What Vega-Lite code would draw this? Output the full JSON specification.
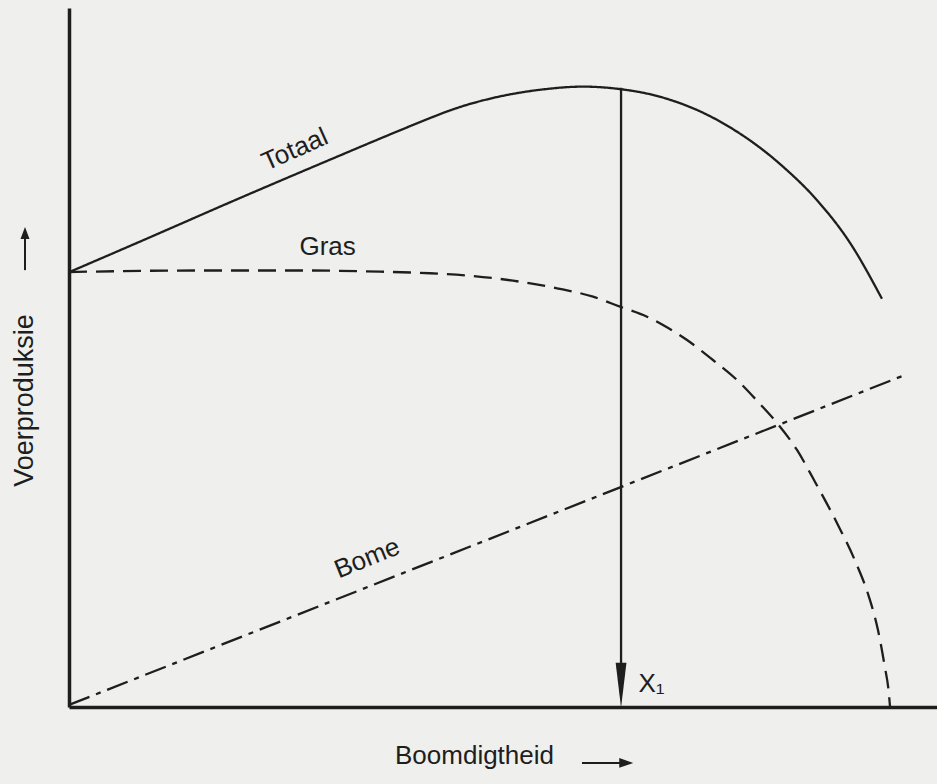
{
  "$schema": "https://vega.github.io/schema/vega-lite/v6.json",
  "width": 868,
  "height": 699,
  "autosize": {"type": "none"},
  "padding": {"left": 69, "top": 8, "right": 0, "bottom": 77},
  "background": "#efefed",
  "config": {
    "view": {"stroke": null},
    "font": "Liberation Sans",
    "text": {"font": "Liberation Sans", "fontSize": 26, "color": "#1e1e1e"}
  },
  "datasets": {
    "curves": [
      {"series": "Totaal", "x": 0, "y": 62.2},
      {"series": "Totaal", "x": 9.33, "y": 67.2},
      {"series": "Totaal", "x": 18.55, "y": 72.2},
      {"series": "Totaal", "x": 30.07, "y": 78.3},
      {"series": "Totaal", "x": 38.13, "y": 82.5},
      {"series": "Totaal", "x": 41.59, "y": 84.25},
      {"series": "Totaal", "x": 43.89, "y": 85.35},
      {"series": "Totaal", "x": 46.0, "y": 86.2},
      {"series": "Totaal", "x": 49.65, "y": 87.35},
      {"series": "Totaal", "x": 54.26, "y": 88.3},
      {"series": "Totaal", "x": 59.22, "y": 88.75},
      {"series": "Totaal", "x": 63.48, "y": 88.4},
      {"series": "Totaal", "x": 68.09, "y": 87.3},
      {"series": "Totaal", "x": 74.65, "y": 84.0},
      {"series": "Totaal", "x": 82.26, "y": 77.3},
      {"series": "Totaal", "x": 86.18, "y": 72.5},
      {"series": "Totaal", "x": 89.98, "y": 66.4},
      {"series": "Totaal", "x": 93.66, "y": 58.4},
      {"series": "Gras", "x": 0, "y": 62.23},
      {"series": "Gras", "x": 15.09, "y": 62.45},
      {"series": "Gras", "x": 26.61, "y": 62.45},
      {"series": "Gras", "x": 35.83, "y": 62.28},
      {"series": "Gras", "x": 41.59, "y": 62.05},
      {"series": "Gras", "x": 46.2, "y": 61.7},
      {"series": "Gras", "x": 51.15, "y": 60.99},
      {"series": "Gras", "x": 56.22, "y": 59.9},
      {"series": "Gras", "x": 60.37, "y": 58.7},
      {"series": "Gras", "x": 63.48, "y": 57.27},
      {"series": "Gras", "x": 66.59, "y": 55.84},
      {"series": "Gras", "x": 68.43, "y": 54.65},
      {"series": "Gras", "x": 71.2, "y": 52.5},
      {"series": "Gras", "x": 74.19, "y": 49.64},
      {"series": "Gras", "x": 76.96, "y": 46.78},
      {"series": "Gras", "x": 79.61, "y": 43.35},
      {"series": "Gras", "x": 81.57, "y": 40.63},
      {"series": "Gras", "x": 83.87, "y": 36.77},
      {"series": "Gras", "x": 85.83, "y": 32.47},
      {"series": "Gras", "x": 88.59, "y": 26.04},
      {"series": "Gras", "x": 90.67, "y": 20.6},
      {"series": "Gras", "x": 92.15, "y": 15.8},
      {"series": "Gras", "x": 93.2, "y": 11.0},
      {"series": "Gras", "x": 93.95, "y": 6.01},
      {"series": "Gras", "x": 94.45, "y": 2.0},
      {"series": "Gras", "x": 94.59, "y": 0},
      {"series": "Bome", "x": 0, "y": 0.3},
      {"series": "Bome", "x": 96.3, "y": 47.5}
    ]
  },
  "encoding": {
    "x": {"type": "quantitative", "scale": {"domain": [0, 100], "nice": false, "zero": false}},
    "y": {"type": "quantitative", "scale": {"domain": [0, 100], "nice": false, "zero": false}}
  },
  "layer": [
    {
      "data": {"values": [{"x": 0, "y": 0}]},
      "mark": {"type": "point", "opacity": 0},
      "encoding": {
        "x": {"field": "x", "type": "quantitative",
          "axis": {"orient": "bottom", "ticks": false, "labels": false, "grid": false,
            "domainColor": "#1e1e1e", "domainWidth": 3.5,
            "title": "Boomdigtheid", "titleFont": "Liberation Sans", "titleFontSize": 26,
            "titleFontWeight": "normal", "titleColor": "#1e1e1e",
            "titleAlign": "center", "titleBaseline": "alphabetic", "titleX": 405, "titleY": 56}},
        "y": {"field": "y", "type": "quantitative",
          "axis": {"orient": "left", "ticks": false, "labels": false, "grid": false,
            "domainColor": "#1e1e1e", "domainWidth": 3.5,
            "title": "Voerproduksie", "titleFont": "Liberation Sans", "titleFontSize": 27,
            "titleFontWeight": "normal", "titleColor": "#1e1e1e", "titleAngle": -90,
            "titleAlign": "center", "titleBaseline": "alphabetic", "titleX": -37, "titleY": 392}}
      }
    },
    {
      "data": {"name": "curves"},
      "mark": {"type": "line", "interpolate": "monotone", "color": "#1e1e1e", "strokeWidth": 2.3},
      "encoding": {
        "x": {"field": "x", "type": "quantitative"},
        "y": {"field": "y", "type": "quantitative"},
        "detail": {"field": "series"},
        "strokeDash": {"field": "series", "type": "nominal", "legend": null,
          "scale": {"domain": ["Totaal", "Gras", "Bome"], "range": [[1, 0], [18, 9], [22, 7, 5, 7]]}}
      }
    },
    {
      "data": {"values": [{"x": 63.6, "y": 88.6, "y2": 2}]},
      "mark": {"type": "rule", "color": "#1e1e1e", "strokeWidth": 2.3},
      "encoding": {
        "x": {"field": "x", "type": "quantitative"},
        "y": {"field": "y", "type": "quantitative"},
        "y2": {"field": "y2"}
      }
    },
    {
      "data": {"values": [{"x": 63.6, "y": 3.1}]},
      "mark": {"type": "point", "shape": "M-0.24,-1L0.24,-1L0,1Z", "size": 2025, "filled": true, "color": "#1e1e1e", "opacity": 1},
      "encoding": {
        "x": {"field": "x", "type": "quantitative"},
        "y": {"field": "y", "type": "quantitative"}
      }
    },
    {
      "data": {"values": [{"x": -5.07, "y": 62.5, "y2": 68.0}]},
      "mark": {"type": "rule", "color": "#1e1e1e", "strokeWidth": 2},
      "encoding": {
        "x": {"field": "x", "type": "quantitative"},
        "y": {"field": "y", "type": "quantitative"},
        "y2": {"field": "y2"}
      }
    },
    {
      "data": {"values": [{"x": -5.07, "y": 67.8}]},
      "mark": {"type": "point", "shape": "M0,-1L0.75,1L-0.75,1Z", "size": 144, "filled": true, "color": "#1e1e1e", "opacity": 1},
      "encoding": {
        "x": {"field": "x", "type": "quantitative"},
        "y": {"field": "y", "type": "quantitative"}
      }
    },
    {
      "data": {"values": [{"x": 59.1, "x2": 64.5, "y": -8.0}]},
      "mark": {"type": "rule", "color": "#1e1e1e", "strokeWidth": 2},
      "encoding": {
        "x": {"field": "x", "type": "quantitative"},
        "x2": {"field": "x2"},
        "y": {"field": "y", "type": "quantitative"}
      }
    },
    {
      "data": {"values": [{"x": 64.2, "y": -8.0}]},
      "mark": {"type": "point", "shape": "M1,0L-1,-0.7L-1,0.7Z", "size": 196, "filled": true, "color": "#1e1e1e", "opacity": 1},
      "encoding": {
        "x": {"field": "x", "type": "quantitative"},
        "y": {"field": "y", "type": "quantitative"}
      }
    },
    {
      "data": {"values": [{"label": "Totaal", "x": 26.4, "y": 78.7}]},
      "mark": {"type": "text", "angle": -24, "align": "center", "baseline": "alphabetic"},
      "encoding": {
        "x": {"field": "x", "type": "quantitative"},
        "y": {"field": "y", "type": "quantitative"},
        "text": {"field": "label"}
      }
    },
    {
      "data": {"values": [{"label": "Bome", "x": 34.7, "y": 20.2}]},
      "mark": {"type": "text", "angle": -22, "align": "center", "baseline": "alphabetic"},
      "encoding": {
        "x": {"field": "x", "type": "quantitative"},
        "y": {"field": "y", "type": "quantitative"},
        "text": {"field": "label"}
      }
    },
    {
      "data": {"values": [{"label": "Gras", "x": 29.8, "y": 64.7}]},
      "mark": {"type": "text", "align": "center", "baseline": "alphabetic"},
      "encoding": {
        "x": {"field": "x", "type": "quantitative"},
        "y": {"field": "y", "type": "quantitative"},
        "text": {"field": "label"}
      }
    },
    {
      "data": {"values": [{"label": "X₁", "x": 65.6, "y": 2.1}]},
      "mark": {"type": "text", "align": "left", "baseline": "alphabetic"},
      "encoding": {
        "x": {"field": "x", "type": "quantitative"},
        "y": {"field": "y", "type": "quantitative"},
        "text": {"field": "label"}
      }
    }
  ]
}
